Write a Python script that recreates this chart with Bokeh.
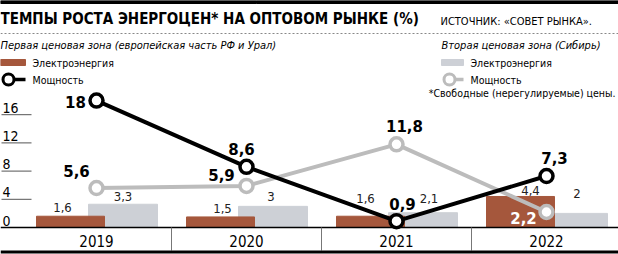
from bokeh.plotting import figure
from bokeh.models import Range1d
from bokeh.embed import file_html
from bokeh.resources import INLINE
from bokeh.core.properties import value

# ---------------- data ----------------
years = ["2019", "2020", "2021", "2022"]
zone1_energy = [1.6, 1.5, 1.6, 4.4]      # brown bars
zone2_energy = [3.3, 3.0, 2.1, 2.0]      # grey bars
zone1_power = [18, 8.6, 0.9, 7.3]        # black line
zone2_power = [5.6, 5.9, 11.8, 2.2]      # grey line
zone1_energy_lbl = ["1,6", "1,5", "1,6", "4,4"]
zone2_energy_lbl = ["3,3", "3", "2,1", "2"]
zone1_power_lbl = ["18", "8,6", "0,9", "7,3"]
zone2_power_lbl = ["5,6", "5,9", "11,8", "2,2"]
yticks = [0, 4, 8, 12, 16]

title = "ТЕМПЫ РОСТА ЭНЕРГОЦЕН* НА ОПТОВОМ РЫНКЕ (%)"
source_txt = "ИСТОЧНИК: «СОВЕТ РЫНКА»."
sub1 = "Первая ценовая зона (европейская часть РФ и Урал)"
sub2 = "Вторая ценовая зона (Сибирь)"
leg_energy = "Электроэнергия"
leg_power = "Мощность"
footnote = "*Свободные (нерегулируемые) цены."

# ---------------- layout ----------------
W, H = 618, 254
X0, XS = 96.0, 150.0      # pixel of category 0 centre, pixels per category
Y0, YS = 227.0, 7.05      # pixel row of value 0, pixels per unit


def X(px):
    return (px - X0) / XS


def Y(py):
    return (Y0 - py) / YS


NARROW = "DejaVu Sans Condensed"
BROWN = "#a5573c"
GREYBAR = "#cdd0d6"
GREYLINE = "#bcbcbc"

p = figure(width=W, height=H, output_backend="svg", toolbar_location=None,
           x_range=Range1d(X(0), X(W)), y_range=Range1d(Y(H), Y(0)),
           min_border=0, min_border_left=0, min_border_right=0,
           min_border_top=0, min_border_bottom=0)
p.axis.visible = False
p.grid.visible = False
p.outline_line_color = None
p.background_fill_color = "white"
p.border_fill_color = "white"

idx = list(range(len(years)))

# top bar and dashed rule
p.quad(left=[X(0)], right=[X(W)], top=[Y(0)], bottom=[Y(3)], color="black")
p.segment(x0=[X(0)], x1=[X(W)], y0=[Y(33)], y1=[Y(33)], line_color="#888888",
          line_width=1, line_dash="2 2")

# header texts
p.text(x=[X(0)], y=[Y(18)], text=[title], text_font=value(NARROW),
       text_font_style="bold", text_font_size="15px", text_baseline="middle",
       text_color="black")
p.text(x=[X(440)], y=[Y(21)], text=[source_txt], text_font=value(NARROW),
       text_font_size="11px", text_baseline="middle", text_color="black")
p.text(x=[X(0), X(441)], y=[Y(45), Y(45)], text=[sub1, sub2], text_font=value(NARROW),
       text_font_style="italic", text_font_size="11px", text_baseline="middle",
       text_color="black")

# legend
p.quad(left=[X(0), X(441)], right=[X(25), X(463)], top=[Y(59), Y(59)],
       bottom=[Y(65), Y(65)], color=[BROWN, GREYBAR])
p.segment(x0=[X(7), X(448)], x1=[X(25), X(463)], y0=[Y(79), Y(79)], y1=[Y(79), Y(79)],
          line_color=["black", GREYLINE], line_width=3.5)
p.scatter(x=[X(8), X(449)], y=[Y(79), Y(79)], size=11, fill_color="white",
          line_color=["black", GREYLINE], line_width=3)
p.text(x=[X(32), X(32), X(470), X(470)], y=[Y(62), Y(79), Y(62), Y(79)],
       text=[leg_energy, leg_power, leg_energy, leg_power], text_font=value(NARROW),
       text_font_size="10.5px", text_baseline="middle", text_color="black")
p.text(x=[X(615)], y=[Y(92)], text=[footnote], text_font=value(NARROW),
       text_font_size="10.5px", text_baseline="middle", text_align="right",
       text_color="black")

# y ticks (short stubs with labels above)
p.segment(x0=[X(1)] * len(yticks), x1=[X(31)] * len(yticks), y0=yticks, y1=yticks,
          line_color="#555555", line_width=1)
p.text(x=[X(2)] * len(yticks), y=yticks, text=[str(t) for t in yticks],
       text_font=value(NARROW), text_font_size="14px", text_baseline="bottom",
       y_offset=-2, text_color="black")

# bars
gx = [i + 26.5 / XS for i in idx]
bx = [i - 26.0 / XS for i in idx]
p.vbar(x=gx, top=zone2_energy, bottom=0, width=69 / XS, color=GREYBAR)
p.vbar(x=bx, top=zone1_energy, bottom=0, width=68 / XS, color=BROWN)

# bar labels
b_dx = [-8, 2, -5, 10]
b_dy = [-9, -8, -18, -6]
g_dx = [0, -2, 6, 4]
g_dy = [-8, -10, -14, -20]
p.text(x=bx, y=zone1_energy, text=zone1_energy_lbl, x_offset=b_dx, y_offset=b_dy,
       text_font=value(NARROW), text_font_size="13px", text_align="center",
       text_baseline="middle", text_color="#222222")
p.text(x=gx, y=zone2_energy, text=zone2_energy_lbl, x_offset=g_dx, y_offset=g_dy,
       text_font=value(NARROW), text_font_size="13px", text_align="center",
       text_baseline="middle", text_color="#222222")

# baseline, separators, bottom rule
p.segment(x0=[X(0)], x1=[X(W)], y0=[0], y1=[0], line_color="black", line_width=1.5)
seps = [i + 0.5 for i in idx[:-1]]
p.segment(x0=seps, x1=seps, y0=[0] * len(seps), y1=[Y(250)] * len(seps),
          line_color="#777777", line_width=1)
p.segment(x0=[X(0)], x1=[X(W)], y0=[Y(251.5)], y1=[Y(251.5)], line_color="black",
          line_width=3)
p.text(x=idx, y=[Y(240)] * len(idx), text=years, text_font=value(NARROW),
       text_font_size="15px", text_align="center", text_baseline="middle",
       text_color="black")

# lines
p.line(x=idx, y=zone2_power, line_color=GREYLINE, line_width=4)
p.scatter(x=idx, y=zone2_power, size=13, fill_color="white", line_color=GREYLINE,
          line_width=3.5)
p.line(x=idx, y=zone1_power, line_color="black", line_width=4)
p.scatter(x=idx, y=zone1_power, size=13, fill_color="white", line_color="black",
          line_width=3.5)

# point labels
k_dx = [-21, -5, 6, 8]
k_dy = [1, -18, -17, -18]
s_dx = [-20, -25, 8, -23]
s_dy = [-17, -11, -18, 6]
p.text(x=idx, y=zone1_power, text=zone1_power_lbl, x_offset=k_dx, y_offset=k_dy,
       text_font=value("DejaVu Sans"), text_font_style="bold", text_font_size="15px",
       text_align="center", text_baseline="middle", text_color="black")
p.text(x=idx, y=zone2_power, text=zone2_power_lbl, x_offset=s_dx, y_offset=s_dy,
       text_font=value("DejaVu Sans"), text_font_style="bold", text_font_size="15px",
       text_align="center", text_baseline="middle",
       text_color=["black", "black", "black", "white"])

open("out.html", "w").write(file_html(p, INLINE))
